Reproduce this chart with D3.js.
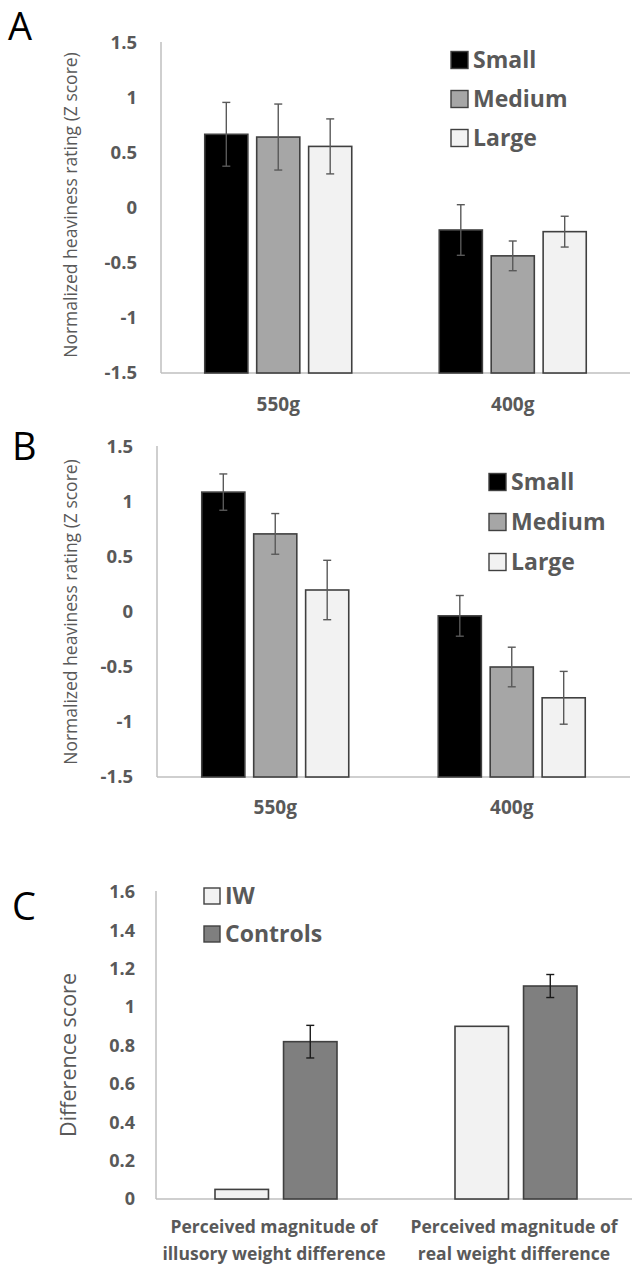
<!DOCTYPE html>
<html>
<head>
<meta charset="utf-8">
<script src="https://cdn.jsdelivr.net/npm/d3@7"></script>
<style>
  html, body { margin: 0; padding: 0; background: #fff; }
  svg { display: block; }
  text { font-family: "Open Sans", "Liberation Sans", sans-serif; }
</style>
</head>
<body>
<svg id="fig" width="632" height="1268"></svg>
<script>
// ---- data -------------------------------------------------------------
const weightCategories = ["550g", "400g"];
const sizeSeries = ["Small", "Medium", "Large"];
const zTicks = [-1.5, -1, -0.5, 0, 0.5, 1, 1.5];

// Panel A: mean heaviness (Z) per weight, per size
const meansA = [[0.67, 0.645, 0.56], [-0.2, -0.435, -0.215]];
const errA   = [[0.29, 0.30, 0.25], [0.23, 0.135, 0.14]];

// Panel B
const meansB = [[1.09, 0.71, 0.2], [-0.035, -0.5, -0.78]];
const errB   = [[0.165, 0.185, 0.27], [0.185, 0.18, 0.24]];

// Panel C: difference scores
const groupsC = ["IW", "Controls"];
const measuresC = [
  ["Perceived magnitude of", "illusory weight difference"],
  ["Perceived magnitude of", "real weight difference"]
];
const meansC = [[0.05, 0.82], [0.9, 1.11]];
const errC   = [[null, 0.085], [null, 0.06]];
const diffTicks = [0, 0.2, 0.4, 0.6, 0.8, 1, 1.2, 1.4, 1.6];

// ---- styling ----------------------------------------------------------
const sizeFill = { Small: "#000000", Medium: "#a6a6a6", Large: "#f2f2f2" };
const groupFill = { IW: "#f2f2f2", Controls: "#7f7f7f" };
const textGrey = "#595959";
const axisGrey = "#bfbfbf";
const barStroke = "#404040";

// plain hyphen for negatives, trailing zeros dropped
const fmtNum = d => String(+d.toFixed(1));

const svg = d3.select("#fig");

function drawPanel(cfg) {
  const g = svg.append("g");
  const y = d3.scaleLinear().domain(cfg.domain).range([cfg.bottom, cfg.top]);
  const x0 = d3.scaleBand().domain(cfg.categories).range([cfg.left, cfg.right]);
  const x1 = d3.scaleBand().domain(cfg.series)
      .range([-cfg.groupWidth / 2, cfg.groupWidth / 2])
      .paddingInner(cfg.barPad);

  // y axis (labels only, no tick marks)
  const yAxis = d3.axisLeft(y).tickValues(cfg.ticks).tickSize(0).tickPadding(0)
      .tickFormat(fmtNum);
  const ya = g.append("g").attr("transform", `translate(${cfg.left - cfg.labelGap},0)`).call(yAxis);
  ya.select(".domain").remove();
  ya.selectAll("text")
      .attr("fill", textGrey)
      .style("font-size", cfg.tickSize + "px")
      .style("font-weight", "bold")
      .style("font-family", '"Open Sans", sans-serif');

  // axis lines
  g.append("line")
      .attr("x1", cfg.left).attr("x2", cfg.left)
      .attr("y1", cfg.top - 1).attr("y2", cfg.bottom)
      .attr("stroke", axisGrey).attr("stroke-width", 1.5);
  g.append("line")
      .attr("x1", cfg.left).attr("x2", cfg.right)
      .attr("y1", cfg.bottom).attr("y2", cfg.bottom)
      .attr("stroke", axisGrey).attr("stroke-width", 1.5);

  // bars
  const base = cfg.domain[0];
  cfg.categories.forEach((cat, ci) => {
    const cx = x0(cat) + x0.bandwidth() / 2;
    cfg.series.forEach((s, si) => {
      const v = cfg.means[ci][si];
      const bx = cx + x1(s);
      g.append("rect")
          .attr("x", bx).attr("width", x1.bandwidth())
          .attr("y", y(v)).attr("height", y(base) - y(v))
          .attr("fill", cfg.fill[s])
          .attr("stroke", barStroke).attr("stroke-width", 1.6);
      const e = cfg.errs[ci][si];
      if (e != null) {
        const mx = bx + x1.bandwidth() / 2;
        const eg = g.append("g").attr("stroke", cfg.errColor).attr("stroke-width", 1.4);
        eg.append("line").attr("x1", mx).attr("x2", mx).attr("y1", y(v + e)).attr("y2", y(v - e));
        eg.append("line").attr("x1", mx - 4).attr("x2", mx + 4).attr("y1", y(v + e)).attr("y2", y(v + e));
        eg.append("line").attr("x1", mx - 4).attr("x2", mx + 4).attr("y1", y(v - e)).attr("y2", y(v - e));
      }
    });
    // category label
    const lines = Array.isArray(cfg.catLabels[ci]) ? cfg.catLabels[ci] : [cfg.catLabels[ci]];
    lines.forEach((ln, li) => {
      g.append("text")
          .attr("x", cx + cfg.catDx).attr("y", cfg.catY + li * cfg.catLine)
          .attr("text-anchor", "middle")
          .attr("fill", textGrey)
          .style("font-size", cfg.catSize + "px")
          .style("font-weight", "bold")
          .text(ln);
    });
  });

  // y title
  g.append("text")
      .attr("transform", `translate(${cfg.titleX},${cfg.titleY}) rotate(-90)`)
      .attr("text-anchor", "middle")
      .attr("fill", textGrey)
      .style("font-size", cfg.titleSize + "px")
      .text(cfg.title);

  // legend
  cfg.series.forEach((s, si) => {
    const ly = cfg.legY + si * cfg.legStep;
    g.append("rect")
        .attr("x", cfg.legX).attr("y", ly - cfg.legBox / 2)
        .attr("width", cfg.legBox).attr("height", cfg.legBox)
        .attr("fill", cfg.fill[s]).attr("stroke", barStroke).attr("stroke-width", 1.4);
    g.append("text")
        .attr("x", cfg.legX + cfg.legBox + 5).attr("y", ly)
        .attr("dy", "0.36em")
        .attr("fill", textGrey)
        .style("font-size", cfg.legSize + "px")
        .style("font-weight", "bold")
        .text(s);
  });

  // panel letter
  g.append("text")
      .attr("x", cfg.letterX).attr("y", cfg.letterY)
      .attr("fill", "#000")
      .style("font-size", "38px")
      .text(cfg.letter);
}

drawPanel({
  letter: "A", letterX: 8, letterY: 40,
  domain: [-1.5, 1.5], ticks: zTicks,
  top: 43, bottom: 373, left: 161, right: 630,
  categories: weightCategories, catLabels: weightCategories,
  series: sizeSeries, fill: sizeFill,
  means: meansA, errs: errA, errColor: "#595959",
  groupWidth: 147, barPad: 0.17,
  labelGap: 24, tickSize: 18.5,
  catY: 411, catDx: 0, catLine: 0, catSize: 19,
  title: "Normalized heaviness rating (Z score)", titleX: 77, titleY: 205, titleSize: 17.5,
  legX: 451, legY: 60, legStep: 39, legBox: 17, legSize: 23
});

drawPanel({
  letter: "B", letterX: 12, letterY: 460,
  domain: [-1.5, 1.5], ticks: zTicks,
  top: 447, bottom: 777, left: 157, right: 630,
  categories: weightCategories, catLabels: weightCategories,
  series: sizeSeries, fill: sizeFill,
  means: meansB, errs: errB, errColor: "#595959",
  groupWidth: 147, barPad: 0.17,
  labelGap: 24, tickSize: 18.5,
  catY: 814, catDx: 0, catLine: 0, catSize: 19,
  title: "Normalized heaviness rating (Z score)", titleX: 77, titleY: 612, titleSize: 17.5,
  legX: 489, legY: 482, legStep: 40, legBox: 17, legSize: 23
});

drawPanel({
  letter: "C", letterX: 12, letterY: 920,
  domain: [0, 1.6], ticks: diffTicks,
  top: 892, bottom: 1199, left: 156, right: 636,
  categories: measuresC.map(m => m.join(" ")), catLabels: measuresC,
  series: groupsC, fill: groupFill,
  means: meansC, errs: errC, errColor: "#1a1a1a",
  groupWidth: 122, barPad: 0.22,
  labelGap: 21, tickSize: 18,
  catY: 1233, catDx: -2, catLine: 27, catSize: 17.5,
  title: "Difference score", titleX: 76, titleY: 1055, titleSize: 21.5,
  legX: 204, legY: 896, legStep: 38, legBox: 16, legSize: 23
});
</script>
</body>
</html>
